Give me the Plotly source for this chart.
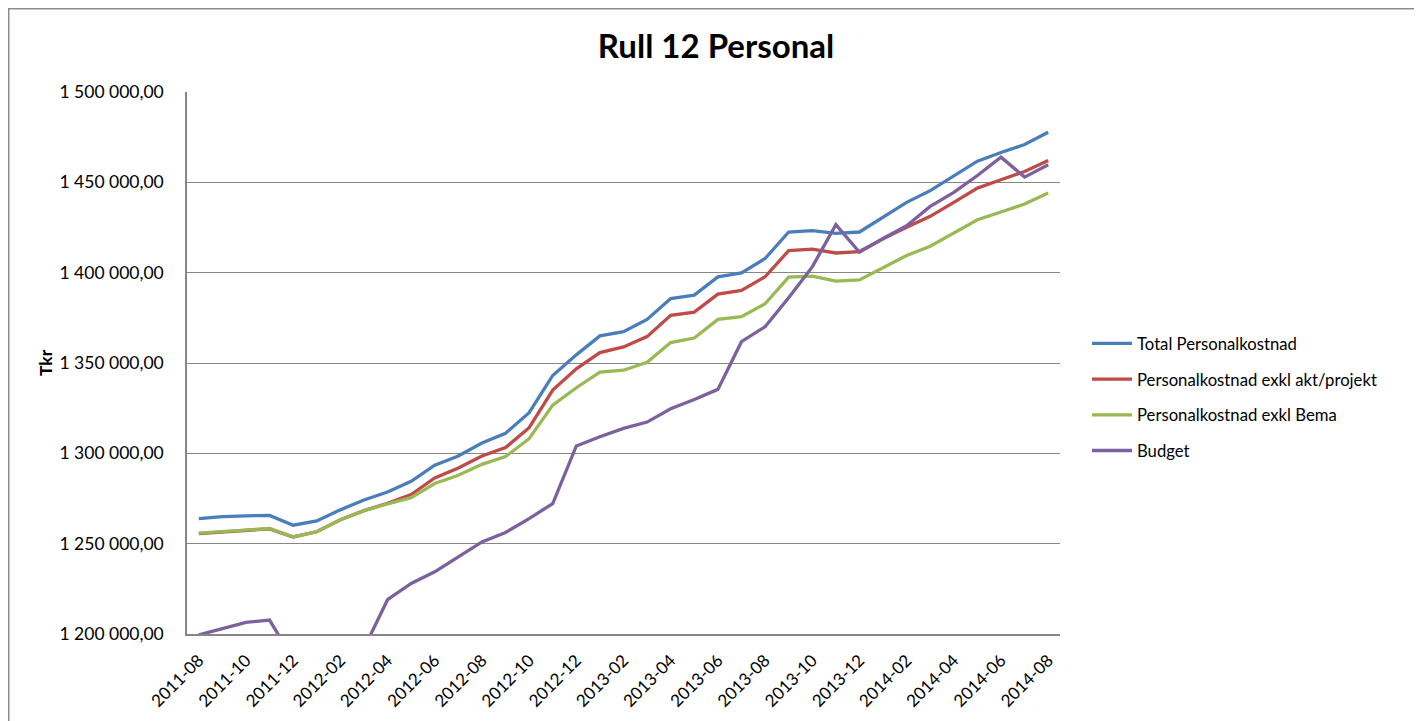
import plotly.graph_objects as go

months = [
    "2011-08", "2011-09", "2011-10", "2011-11", "2011-12", "2012-01", "2012-02", "2012-03",
    "2012-04", "2012-05", "2012-06", "2012-07", "2012-08", "2012-09", "2012-10", "2012-11",
    "2012-12", "2013-01", "2013-02", "2013-03", "2013-04", "2013-05", "2013-06", "2013-07",
    "2013-08", "2013-09", "2013-10", "2013-11", "2013-12", "2014-01", "2014-02", "2014-03",
    "2014-04", "2014-05", "2014-06", "2014-07", "2014-08",
]

total_personal = [
    1263900, 1265000, 1265400, 1265600, 1260200, 1262600, 1268700, 1274200,
    1278600, 1284500, 1293400, 1298500, 1305700, 1311100, 1322500, 1343100,
    1354500, 1365000, 1367300, 1374100, 1385700, 1387600, 1397700, 1399900,
    1407800, 1422500, 1423300, 1421800, 1422500, 1430800, 1438900, 1445400,
    1453400, 1461700, 1466500, 1470900, 1477700,
]

exkl_akt_projekt = [
    1255600, 1256600, 1257400, 1258200, 1253700, 1256600, 1263200, 1268300,
    1272400, 1277200, 1286400, 1291900, 1298500, 1303200, 1314200, 1335000,
    1346800, 1355800, 1358900, 1364600, 1376400, 1378200, 1388100, 1390200,
    1397700, 1412200, 1413000, 1410900, 1411700, 1418700, 1425100, 1431200,
    1438900, 1446800, 1451400, 1456000, 1462100,
]

exkl_bema = [
    1255800, 1256700, 1257500, 1258400, 1253800, 1256700, 1263200, 1268300,
    1272000, 1275500, 1283300, 1287900, 1293900, 1298200, 1308100, 1326700,
    1336300, 1345000, 1346000, 1350400, 1361300, 1363800, 1374100, 1375600,
    1382800, 1397500, 1398100, 1395300, 1396000, 1402700, 1409500, 1414600,
    1422000, 1429300, 1433600, 1438000, 1444100,
]

budget = [
    1199500, 1203100, 1206400, 1207700, 1186000, 1184000, 1187000, 1192000,
    1219000, 1228000, 1234400, 1242700, 1251000, 1256200, 1263900, 1272200,
    1304100, 1309200, 1313800, 1317300, 1324700, 1329800, 1335400, 1361800,
    1370100, 1386100, 1403200, 1426600, 1411300, 1418900, 1426000, 1436700,
    1444400, 1453800, 1463900, 1452900, 1459700,
]

series_names = [
    "Total Personalkostnad",
    "Personalkostnad exkl akt/projekt",
    "Personalkostnad exkl Bema",
    "Budget",
]
series_values = [total_personal, exkl_akt_projekt, exkl_bema, budget]
series_colors = ["#4A7EBB", "#BE4B48", "#98B954", "#7D60A0"]

tick_labels = months[::2]

FONT = "Lato, 'Open Sans', 'DejaVu Sans', sans-serif"

fig = go.Figure()
for name, vals, col in zip(series_names, series_values, series_colors):
    fig.add_trace(go.Scatter(
        x=months, y=vals, mode="lines", name=name, legendgroup=name,
        line=dict(color=col, width=3.3),
    ))

# page is rendered with an 8px body margin, so figure coords = page coords - 8
OFF = 8
W, H = 1422, 721
L, T = 187 - OFF, 92 - OFF
pw, ph = 873, 542
R, B = W - L - pw, H - T - ph


def px(page_x):
    return (page_x - OFF - L) / pw


def py(page_y):
    return (T + ph - (page_y - OFF)) / ph


shapes = [
    dict(type="rect", xref="paper", yref="paper", x0=px(OFF + 0.75), x1=px(1500),
         y0=py(800), y1=py(OFF + 0.75),
         fillcolor="rgba(0,0,0,0)", line=dict(color="#8c8c8c", width=1.5), layer="below"),
]

fig.update_layout(
    width=W, height=H,
    margin=dict(l=L, r=R, t=T, b=B, autoexpand=False),
    paper_bgcolor="white", plot_bgcolor="white",
    separators=", ",
    font=dict(family=FONT, size=17, color="#000000"),
    title=dict(text="<b>Rull 12 Personal</b>", x=(716 - OFF) / W, xanchor="center",
               y=1 - (46 - OFF) / H, yanchor="middle", font=dict(size=33, family=FONT)),
    showlegend=True,
    legend=dict(x=px(1087), xanchor="left", y=py(397), yanchor="middle",
                font=dict(size=16.7, family=FONT), tracegroupgap=11,
                bgcolor="rgba(0,0,0,0)", itemwidth=40),
    shapes=shapes,
    annotations=[dict(text="<b>Tkr</b>", xref="paper", yref="paper", x=px(45), y=py(363),
                      xanchor="center", yanchor="middle", textangle=-90, showarrow=False,
                      font=dict(size=17.5, family=FONT))],
)

fig.update_xaxes(
    type="category", categoryorder="array", categoryarray=months,
    range=[-0.5, len(months) - 0.5],
    tickmode="array", tickvals=tick_labels, ticktext=tick_labels,
    tickangle=-45, tickfont=dict(size=17, family=FONT),
    showgrid=False, showline=True, linecolor="#868686", linewidth=1.5,
    ticks="", ticklabelstandoff=8, zeroline=False,
)

fig.update_yaxes(
    range=[1200000, 1500000], dtick=50000, tick0=1200000,
    tickformat=",.2f", tickfont=dict(size=17.5, family=FONT),
    showgrid=True, gridcolor="#868686", gridwidth=1.2,
    showline=True, linecolor="#868686", linewidth=1.5,
    ticks="", ticklabelstandoff=18, zeroline=False,
)

fig.write_html("out.html")
